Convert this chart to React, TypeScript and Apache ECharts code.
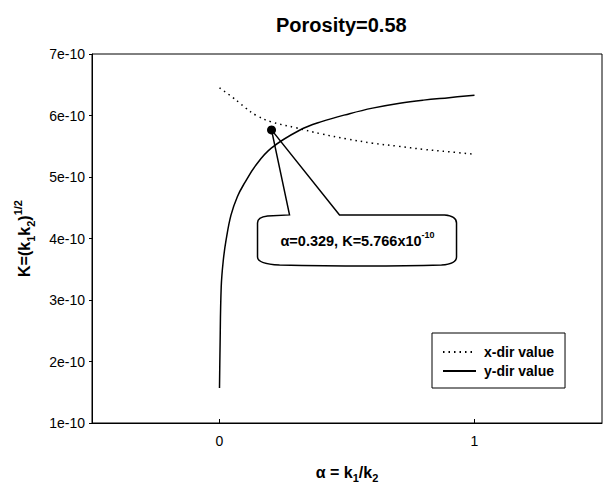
import React, { useEffect, useRef } from "react";
import * as echarts from "echarts";

const titleText = "Porosity=0.58";
const xDirAlpha = [0, 0.05, 0.08, 0.1, 0.145, 0.2, 0.3, 0.4, 0.5, 0.6, 0.7, 0.8, 0.9, 1.0];
const xDirK = [6.45e-10, 6.3e-10, 6.2e-10, 6.13e-10, 6.0e-10, 5.9e-10, 5.8e-10, 5.7e-10, 5.62e-10, 5.55e-10, 5.5e-10, 5.45e-10, 5.41e-10, 5.37e-10];
const yDirAlpha = [0, 0.002, 0.0067, 0.015, 0.026, 0.045, 0.07, 0.098, 0.144, 0.203, 0.314, 0.4, 0.51, 0.6, 0.707, 0.8, 0.9, 1.0];
const yDirK = [1.57e-10, 2.19e-10, 3.21e-10, 3.65e-10, 3.98e-10, 4.38e-10, 4.68e-10, 4.9e-10, 5.2e-10, 5.47e-10, 5.76e-10, 5.9e-10, 6.03e-10, 6.12e-10, 6.2e-10, 6.25e-10, 6.29e-10, 6.33e-10];
const annotationPoint = [0.204, 5.766e-10];
const annotationAlpha = "0.329";
const annotationK = "5.766";
const xTicks = [0, 1];
const seriesNames = ["x-dir value", "y-dir value"];

const FONT = "'Liberation Sans', Arial, sans-serif";

// callout outline, relative to the annotated point (origin)
const calloutPath =
  "M 18 85 L 0 0 L 68 85 L 173 85 Q 185 86 185 93 L 185 127 Q 185 134 170 135 Q 100 137 8 135 Q -14 134 -14 127 L -14 93 Q -14 87 -4 86 Z";

let registered = false;

export default function App() {
  const ref = useRef<HTMLDivElement>(null);
  useEffect(() => {
    if (!registered) {
      echarts.graphic.registerShape("callout", echarts.graphic.extendPath(calloutPath, {}) as any);
      registered = true;
    }
    const chart = echarts.init(ref.current!, undefined, { renderer: "svg" });
    const option: any = {
      animation: false,
      backgroundColor: "#fff",
      title: {
        text: titleText,
        left: 271,
        top: 10,
        textStyle: { fontFamily: FONT, fontWeight: "bold", fontSize: 20, color: "#000" },
      },
      grid: { left: 92, right: 1, top: 54, bottom: 61, show: true, borderColor: "#000", borderWidth: 1, containLabel: false, outerBoundsMode: "none" },
      legend: {
        data: seriesNames,
        orient: "vertical",
        left: 432,
        top: 333,
        padding: [12, 11, 10, 10],
        itemGap: 5,
        itemWidth: 33,
        itemHeight: 14,
        borderColor: "#000",
        borderWidth: 1,
        backgroundColor: "#fff",
        itemStyle: { color: "transparent", borderWidth: 0, opacity: 0 },
        textStyle: { fontFamily: FONT, fontWeight: "bold", fontSize: 14, color: "#000", padding: [0, 0, 0, 3] },
      },
      xAxis: {
        type: "value",
        min: -0.5,
        max: 1.5,
        name: "{m|α = k}{s|1}{m|/k}{s|2}",
        nameLocation: "middle",
        nameGap: 38,
        nameTextStyle: {
          rich: {
            m: { fontFamily: FONT, fontWeight: "bold", fontSize: 16, color: "#000", lineHeight: 22, verticalAlign: "middle" },
            s: { fontFamily: FONT, fontWeight: "bold", fontSize: 11, color: "#000", lineHeight: 22, verticalAlign: "bottom" },
          },
        },
        splitLine: { show: false },
        axisLine: { onZero: false, lineStyle: { color: "#000", width: 1 } },
        axisTick: { inside: true, length: 4, customValues: xTicks, lineStyle: { color: "#000" } },
        axisLabel: { customValues: xTicks, margin: 11, fontFamily: FONT, fontSize: 14, color: "#000" },
      },
      yAxis: {
        type: "value",
        min: 1e-10,
        max: 7e-10,
        interval: 1e-10,
        name: "{m|K=(k}{s|1}{m|k}{s|2}{m|)}{p|1/2}",
        nameLocation: "middle",
        nameRotate: 90,
        nameGap: 56,
        nameTextStyle: {
          rich: {
            m: { fontFamily: FONT, fontWeight: "bold", fontSize: 16, color: "#000", lineHeight: 24, verticalAlign: "middle" },
            s: { fontFamily: FONT, fontWeight: "bold", fontSize: 11, color: "#000", lineHeight: 24, verticalAlign: "bottom" },
            p: { fontFamily: FONT, fontWeight: "bold", fontSize: 11, color: "#000", lineHeight: 24, verticalAlign: "top" },
          },
        },
        splitLine: { show: false },
        axisLine: { onZero: false, lineStyle: { color: "#000", width: 1 } },
        axisTick: { inside: false, length: 3, lineStyle: { color: "#000" } },
        axisLabel: {
          margin: 7,
          fontFamily: FONT,
          fontSize: 14,
          color: "#000",
          formatter: (v: number) => Math.round(v * 1e10) + "e-10",
        },
      },
      series: [
        {
          name: seriesNames[0],
          type: "line",
          symbol: "none",
          smooth: 0.4,
          data: xDirAlpha.map((a, i) => [a, xDirK[i]]),
          lineStyle: { color: "#000", width: 1.5, type: [1.5, 4] },
          itemStyle: { color: "#000" },
        },
        {
          name: seriesNames[1],
          type: "line",
          symbol: "none",
          smooth: 0.4,
          data: yDirAlpha.map((a, i) => [a, yDirK[i]]),
          lineStyle: { color: "#000", width: 1.5, type: "solid" },
          itemStyle: { color: "#000" },
        },
        {
          name: "annotation",
          type: "scatter",
          symbol: "circle",
          symbolSize: 9,
          data: [annotationPoint],
          itemStyle: { color: "#000", opacity: 1 },
          z: 5,
        },
      ],
    };
    chart.setOption(option);
    const p = chart.convertToPixel({ gridIndex: 0 }, annotationPoint) as number[];
    chart.setOption({
      graphic: [
        {
          type: "callout",
          x: p[0],
          y: p[1],
          silent: true,
          z: 10,
          style: { fill: "none", stroke: "#000", lineWidth: 1.5 },
        },
        {
          type: "text",
          x: p[0] + 86,
          y: p[1] + 111,
          silent: true,
          z: 11,
          style: {
            text: `{m|α=${annotationAlpha}, K=${annotationK}x10}{p|-10}`,
            align: "center",
            verticalAlign: "middle",
            rich: {
              m: { fontFamily: FONT, fontWeight: "bold", fontSize: 14.5, fill: "#000", lineHeight: 20, verticalAlign: "middle" },
              p: { fontFamily: FONT, fontWeight: "bold", fontSize: 9, fill: "#000", lineHeight: 20, verticalAlign: "top" },
            },
          },
        },
      ],
    });
    return () => chart.dispose();
  }, []);
  return <div ref={ref} style={{ position: "fixed", left: 0, top: 0, width: 603, height: 484 }} />;
}
